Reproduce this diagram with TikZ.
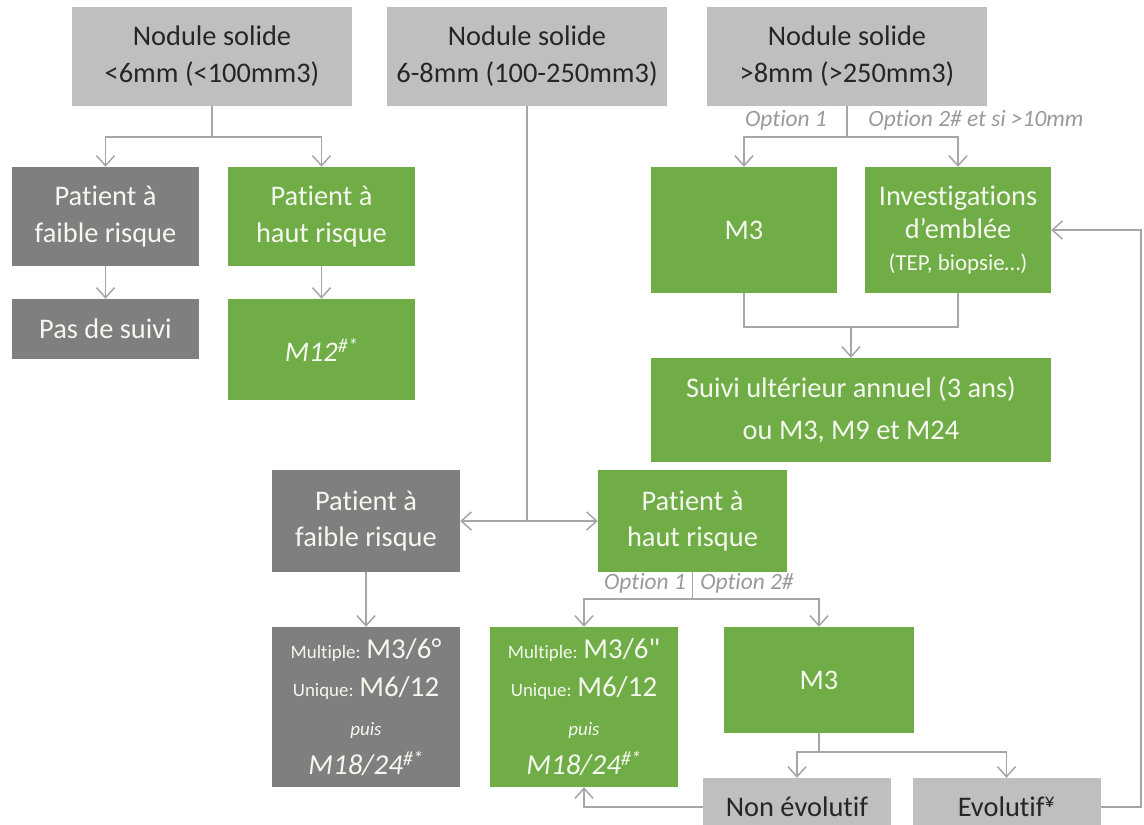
\documentclass[tikz,border=0pt]{standalone}
\usepackage{fontspec}
\setmainfont{Carlito}[Ligatures=NoCommon]
\usetikzlibrary{arrows.meta}
\definecolor{lgray}{HTML}{BFBFBF}
\definecolor{dgray}{HTML}{7F7F7F}
\definecolor{mygreen}{HTML}{70AD47}
\definecolor{linec}{HTML}{A6A6A6}
\definecolor{labc}{HTML}{9A9A9A}
\definecolor{darktext}{HTML}{262626}
\definecolor{lighttext}{HTML}{F4F8EE}
\begin{document}
\begin{tikzpicture}[x=1bp,y=-1bp,
  box/.style={rectangle, inner sep=0pt, align=center, font=\fontsize{28.5}{37}\selectfont},
  topbox/.style={box, fill=lgray, text=darktext, minimum width=280bp, minimum height=99bp},
  darkbox/.style={box, fill=dgray, text=lighttext},
  greenbox/.style={box, fill=mygreen, text=lighttext},
  evbox/.style={box, fill=lgray, text=darktext, minimum width=188bp, minimum height=58bp},
  ln/.style={draw=linec, line width=1.5bp},
  arr/.style={ln, -{Straight Barb[length=10bp,width=18bp]}},
  darr/.style={ln, {Straight Barb[length=10bp,width=18bp]}-{Straight Barb[length=10bp,width=18bp]}},
  opt/.style={inner sep=0pt, text=labc, font=\fontsize{23.5}{25}\selectfont\itshape}
]
\fill[white] (0,0) rectangle (1144,825);
\path[use as bounding box] (0,0) rectangle (1144,825);
\clip (0,0) rectangle (1144,825);

% top row
\node[topbox] (n1) at (212,56.5) {Nodule solide\\<6mm (<100mm3)};
\node[topbox] (n2) at (527,56.5) {Nodule solide\\6-8mm (100-250mm3)};
\node[topbox] (n3) at (847,56.5) {Nodule solide\\>8mm (>250mm3)};

% left branch
\node[darkbox, minimum width=187bp, minimum height=99bp] (fr1) at (105.5,216.5) {Patient à\\faible risque};
\node[greenbox, minimum width=187bp, minimum height=99bp] (hr1) at (321.5,216.5) {Patient à\\haut risque};
\node[darkbox, minimum width=187bp, minimum height=60bp] (pds) at (105.5,329) {Pas de suivi};
\node[greenbox, minimum width=187bp, minimum height=101bp] (m12) at (321.5,349.5) {\itshape M12\textsuperscript{\#*}};

% right branch
\node[greenbox, minimum width=186bp, minimum height=126bp] (m3a) at (744,230) {M3};
\node[greenbox, minimum width=186bp, minimum height=126bp, font=\fontsize{28.5}{33}\selectfont] (inv) at (958,230) {Investigations\\d’emblée\\[-1bp]{\fontsize{23}{36}\selectfont (TEP, biopsie…)}};
\node[greenbox, minimum width=400bp, minimum height=104bp, font=\fontsize{28.5}{42}\selectfont] (suivi) at (851,410) {Suivi ultérieur annuel (3 ans)\\ou M3, M9 et M24};

% middle branch
\node[darkbox, minimum width=188bp, minimum height=102bp] (fr2) at (366,521) {Patient à\\faible risque};
\node[greenbox, minimum width=189bp, minimum height=102bp] (hr2) at (692.5,521) {Patient à\\haut risque};
\node[darkbox, minimum width=188bp, minimum height=160bp, font=\fontsize{29}{39}\selectfont] (mg) at (366,707)
  {{\fontsize{19}{39}\selectfont Multiple: }M3/6°\\{\fontsize{19}{39}\selectfont Unique: }M6/12\\{\fontsize{19}{32}\selectfont\itshape puis}\\\itshape M18/24\textsuperscript{\#*}};
\node[greenbox, minimum width=188bp, minimum height=160bp, font=\fontsize{29}{39}\selectfont] (mv) at (584,707)
  {{\fontsize{19}{39}\selectfont Multiple: }M3/6\textquotedbl\\{\fontsize{19}{39}\selectfont Unique: }M6/12\\{\fontsize{19}{32}\selectfont\itshape puis}\\\itshape M18/24\textsuperscript{\#*}};
\node[greenbox, minimum width=190bp, minimum height=106bp] (m3b) at (819,680) {M3};
\node[evbox] (ne) at (797,807) {Non évolutif};
\node[evbox] (ev) at (1006.5,807) {Evolutif\textsuperscript{¥}};

% option labels
\node[opt] (o1a) at (786,120) {Option 1};
\node[opt] (o2a) at (976,120) {Option 2\# et si >10mm};
\node[opt] (o1b) at (645,583) {Option 1};
\node[opt] (o2b) at (747,583) {Option 2\#};

% junction coordinates
\coordinate (j1) at (212,137);
\coordinate (j3) at (847,137);
\coordinate (j2) at (527,521);
\coordinate (js) at (851,327);
\coordinate (jh) at (692.5,599);
\coordinate (jm) at (819,752);
\coordinate (jr) at (1141,807);

% connectors left
\draw[ln] (n1.south) -- (j1);
\draw[arr] (j1) -| (fr1.north);
\draw[arr] (j1) -| (hr1.north);
\draw[arr] (fr1.south) -- (pds.north);
\draw[arr] (hr1.south) -- (m12.north);

% connectors right
\draw[ln] (n3.south) -- (j3);
\draw[arr] (j3) -| (m3a.north);
\draw[arr] (j3) -| (inv.north);
\draw[ln] (m3a.south) |- (js) -| (inv.south);
\draw[arr] (js) -- (suivi.north);

% connectors middle
\draw[ln] (n2.south) -- (j2);
\draw[darr] (fr2.east) -- (hr2.west);
\draw[arr] (fr2.south) -- (mg.north);
\draw[ln] (hr2.south) -- (jh);
\draw[arr] (jh) -| (mv.north);
\draw[arr] (jh) -| (m3b.north);
\draw[ln] (m3b.south) -- (jm);
\draw[arr] (jm) -| (ne.north);
\draw[arr] (jm) -| (ev.north);
\draw[arr] (ne.west) -| (mv.south);
\draw[arr] (ev.east) -- (jr) |- (inv.east);
\end{tikzpicture}
\end{document}
